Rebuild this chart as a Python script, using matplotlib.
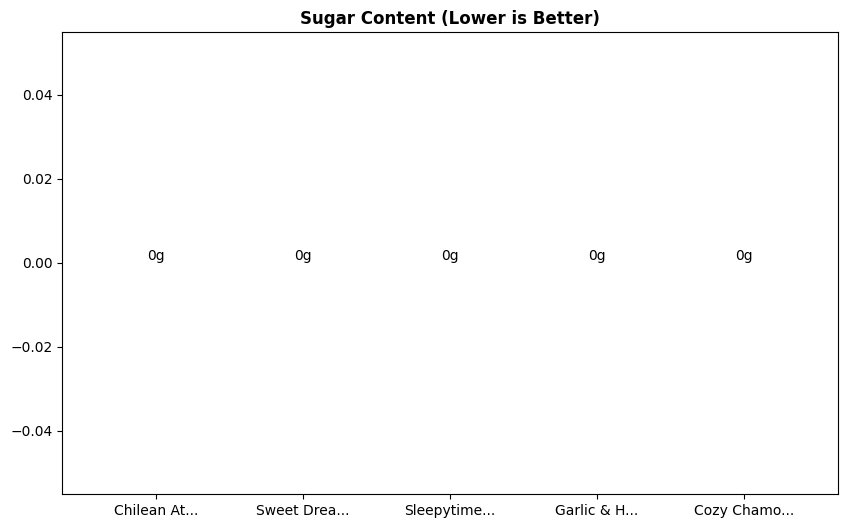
import matplotlib
matplotlib.use("Agg")
import matplotlib.pyplot as plt

# Product names (truncated as shown) and sugar grams
products = ["Chilean At...", "Sweet Drea...", "Sleepytime...", "Garlic & H...", "Cozy Chamo..."]
sugar = [0, 0, 0, 0, 0]

fig, ax = plt.subplots(figsize=(8.46, 5.28), dpi=100)
bars = ax.bar(products, sugar, color="#2ecc71")

# value labels on top of each bar
for bar, v in zip(bars, sugar):
    ax.text(bar.get_x() + bar.get_width() / 2, bar.get_height(), f"{v}g",
            ha="center", va="bottom")

ax.set_title("Sugar Content (Lower is Better)", fontweight="bold")
fig.subplots_adjust(left=0.0733, right=0.9905, top=0.9394, bottom=0.0644)
plt.savefig("out.png")
